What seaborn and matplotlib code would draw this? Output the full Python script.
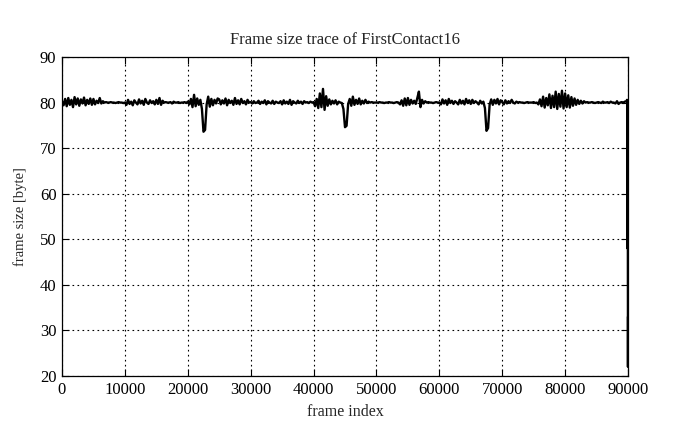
#!/usr/bin/env python3
# Frame size trace of FirstContact16 - gnuplot style line chart with seaborn
import numpy as np
import pandas as pd
import matplotlib
matplotlib.use('Agg')
import matplotlib.pyplot as plt
import seaborn as sns

# Data (one value every 250 frames, 20 per row)
frames = list(range(0, 89751, 250))
sizes = [
    80.3, 79.4, 80.8, 79.2, 81.0, 79.5, 80.6, 79.0, 81.2, 79.6, 80.9, 79.3, 80.7, 79.8, 81.1, 79.4, 80.6, 79.7, 80.9, 79.5,
    80.8, 79.6, 80.4, 79.9, 81.0, 79.8, 80.3, 80.0, 80.1, 80.0, 80.0, 80.1, 80.0, 80.0, 79.9, 80.0, 80.1, 80.0, 80.0, 79.9,
    80.0, 79.5, 80.6, 79.7, 80.2, 79.4, 80.5, 80.0, 79.6, 80.7, 79.8, 80.4, 79.5, 80.8, 80.0, 79.7, 80.5, 79.9, 80.3, 79.6,
    80.6, 79.7, 81.0, 79.5, 80.4, 80.0, 80.1, 80.0, 80.0, 80.1, 79.8, 80.2, 80.0, 80.0, 80.1, 79.9, 80.0, 80.0, 80.1, 79.9,
    80.2, 79.6, 80.8, 79.0, 81.7, 79.2, 80.9, 79.5, 80.6, 78.6, 73.6, 74.0, 79.6, 81.3, 79.1, 80.8, 79.4, 80.6, 79.8, 80.9,
    80.7, 79.6, 80.5, 79.8, 80.9, 79.4, 80.6, 79.9, 80.4, 79.5, 81.0, 79.7, 80.5, 79.6, 80.8, 79.9, 80.3, 79.6, 80.6, 80.0,
    80.1, 79.8, 80.3, 79.9, 80.0, 80.4, 79.7, 80.2, 79.9, 80.5, 79.6, 80.3, 80.0, 79.8, 80.4, 79.7, 80.2, 80.0, 79.9, 80.3,
    79.6, 80.5, 79.8, 80.2, 79.7, 80.6, 79.5, 80.3, 80.0, 79.8, 80.4, 79.9, 80.2, 79.7, 80.3, 80.0, 80.1, 79.9, 80.2, 80.0,
    80.1, 79.2, 80.8, 78.8, 82.0, 79.0, 83.0, 78.4, 81.4, 79.3, 80.7, 79.6, 80.4, 79.8, 80.5, 79.6, 80.2, 80.0, 79.9, 78.6,
    74.6, 74.9, 79.7, 80.8, 79.3, 81.3, 79.5, 80.6, 79.7, 80.9, 79.6, 80.4, 79.8, 80.6, 79.9, 80.2, 80.0, 80.1, 80.0, 80.0,
    80.0, 80.0, 80.1, 80.0, 80.0, 79.9, 80.0, 80.0, 80.1, 80.0, 80.0, 79.9, 80.0, 80.1, 80.0, 79.6, 80.5, 79.3, 80.9, 79.4,
    81.0, 79.5, 80.6, 79.8, 80.4, 79.7, 81.0, 82.4, 79.0, 80.6, 79.8, 80.3, 80.0, 80.1, 80.0, 80.0, 79.9, 80.0, 80.1, 80.0,
    80.0, 79.6, 80.7, 79.8, 80.5, 79.5, 80.8, 79.9, 80.4, 79.7, 80.3, 80.0, 79.6, 80.6, 79.8, 80.4, 79.6, 80.8, 79.9, 80.5,
    79.7, 80.6, 79.9, 80.3, 80.0, 79.6, 80.4, 79.8, 80.2, 78.8, 73.8, 74.4, 79.6, 80.7, 79.5, 80.6, 79.8, 80.8, 79.6, 80.5,
    80.1, 79.6, 80.5, 79.8, 80.3, 79.9, 80.6, 80.0, 79.8, 80.2, 80.0, 80.1, 80.0, 80.0, 79.9, 80.0, 80.1, 80.0, 80.0, 80.0,
    80.1, 79.9, 80.0, 79.6, 80.7, 79.2, 81.3, 78.9, 81.0, 79.4, 81.8, 78.8, 81.5, 79.0, 82.4, 78.6, 81.9, 79.1, 82.6, 78.7,
    82.0, 79.0, 81.6, 78.9, 81.2, 79.3, 80.9, 79.5, 80.6, 79.7, 80.4, 79.8, 80.3, 80.0, 80.1, 80.0, 80.0, 80.1, 80.0, 79.9,
    80.0, 80.1, 80.0, 79.9, 80.2, 80.0, 80.0, 80.1, 79.9, 80.2, 80.0, 80.0, 79.8, 80.3, 79.7, 80.0, 80.1, 80.0, 80.2, 80.3,
]
# last frames, where the trace collapses
tail_frames = [89850, 89900, 89940, 89960, 89975, 89985, 89995, 90000]
tail_sizes = [80.6, 80.4, 48.0, 80.5, 48.0, 33.0, 22.0, 33.0]

xticks = list(range(0, 90001, 10000))
yticks = list(range(20, 91, 10))

df = pd.DataFrame({'frame': frames + tail_frames, 'size': sizes + tail_sizes})

# Plot
sns.set_style('ticks')
plt.rcParams['font.family'] = ['Liberation Serif', 'DejaVu Serif']

fig = plt.figure(figsize=(6.95, 4.29), dpi=100)
ax = fig.add_axes([62 / 695, 1 - 376 / 429, 566 / 695, 319 / 429])

sns.lineplot(x='frame', y='size', data=df, ax=ax, color='black',
             linewidth=1.7, sort=False, estimator=None)

ax.set_xlim(0, 90000)
ax.set_ylim(20, 90)
ax.set_xticks(xticks)
ax.set_yticks(yticks)
ax.set_xticklabels([str(t) for t in xticks])
ax.grid(True, linestyle=(0, (1.5, 3)), color='black', linewidth=0.8)
ax.tick_params(direction='in', top=True, right=True, length=5, width=0.8,
               labelsize=12, colors='black', pad=4)
for s in ax.spines.values():
    s.set_linewidth(0.9)
    s.set_color('black')

ax.set_title('Frame size trace of FirstContact16', fontsize=12, pad=9)
ax.set_xlabel('frame index', fontsize=11.5, labelpad=5)
ax.set_ylabel('frame size [byte]', fontsize=10.5, labelpad=9)

plt.savefig('out.png', dpi=100)
